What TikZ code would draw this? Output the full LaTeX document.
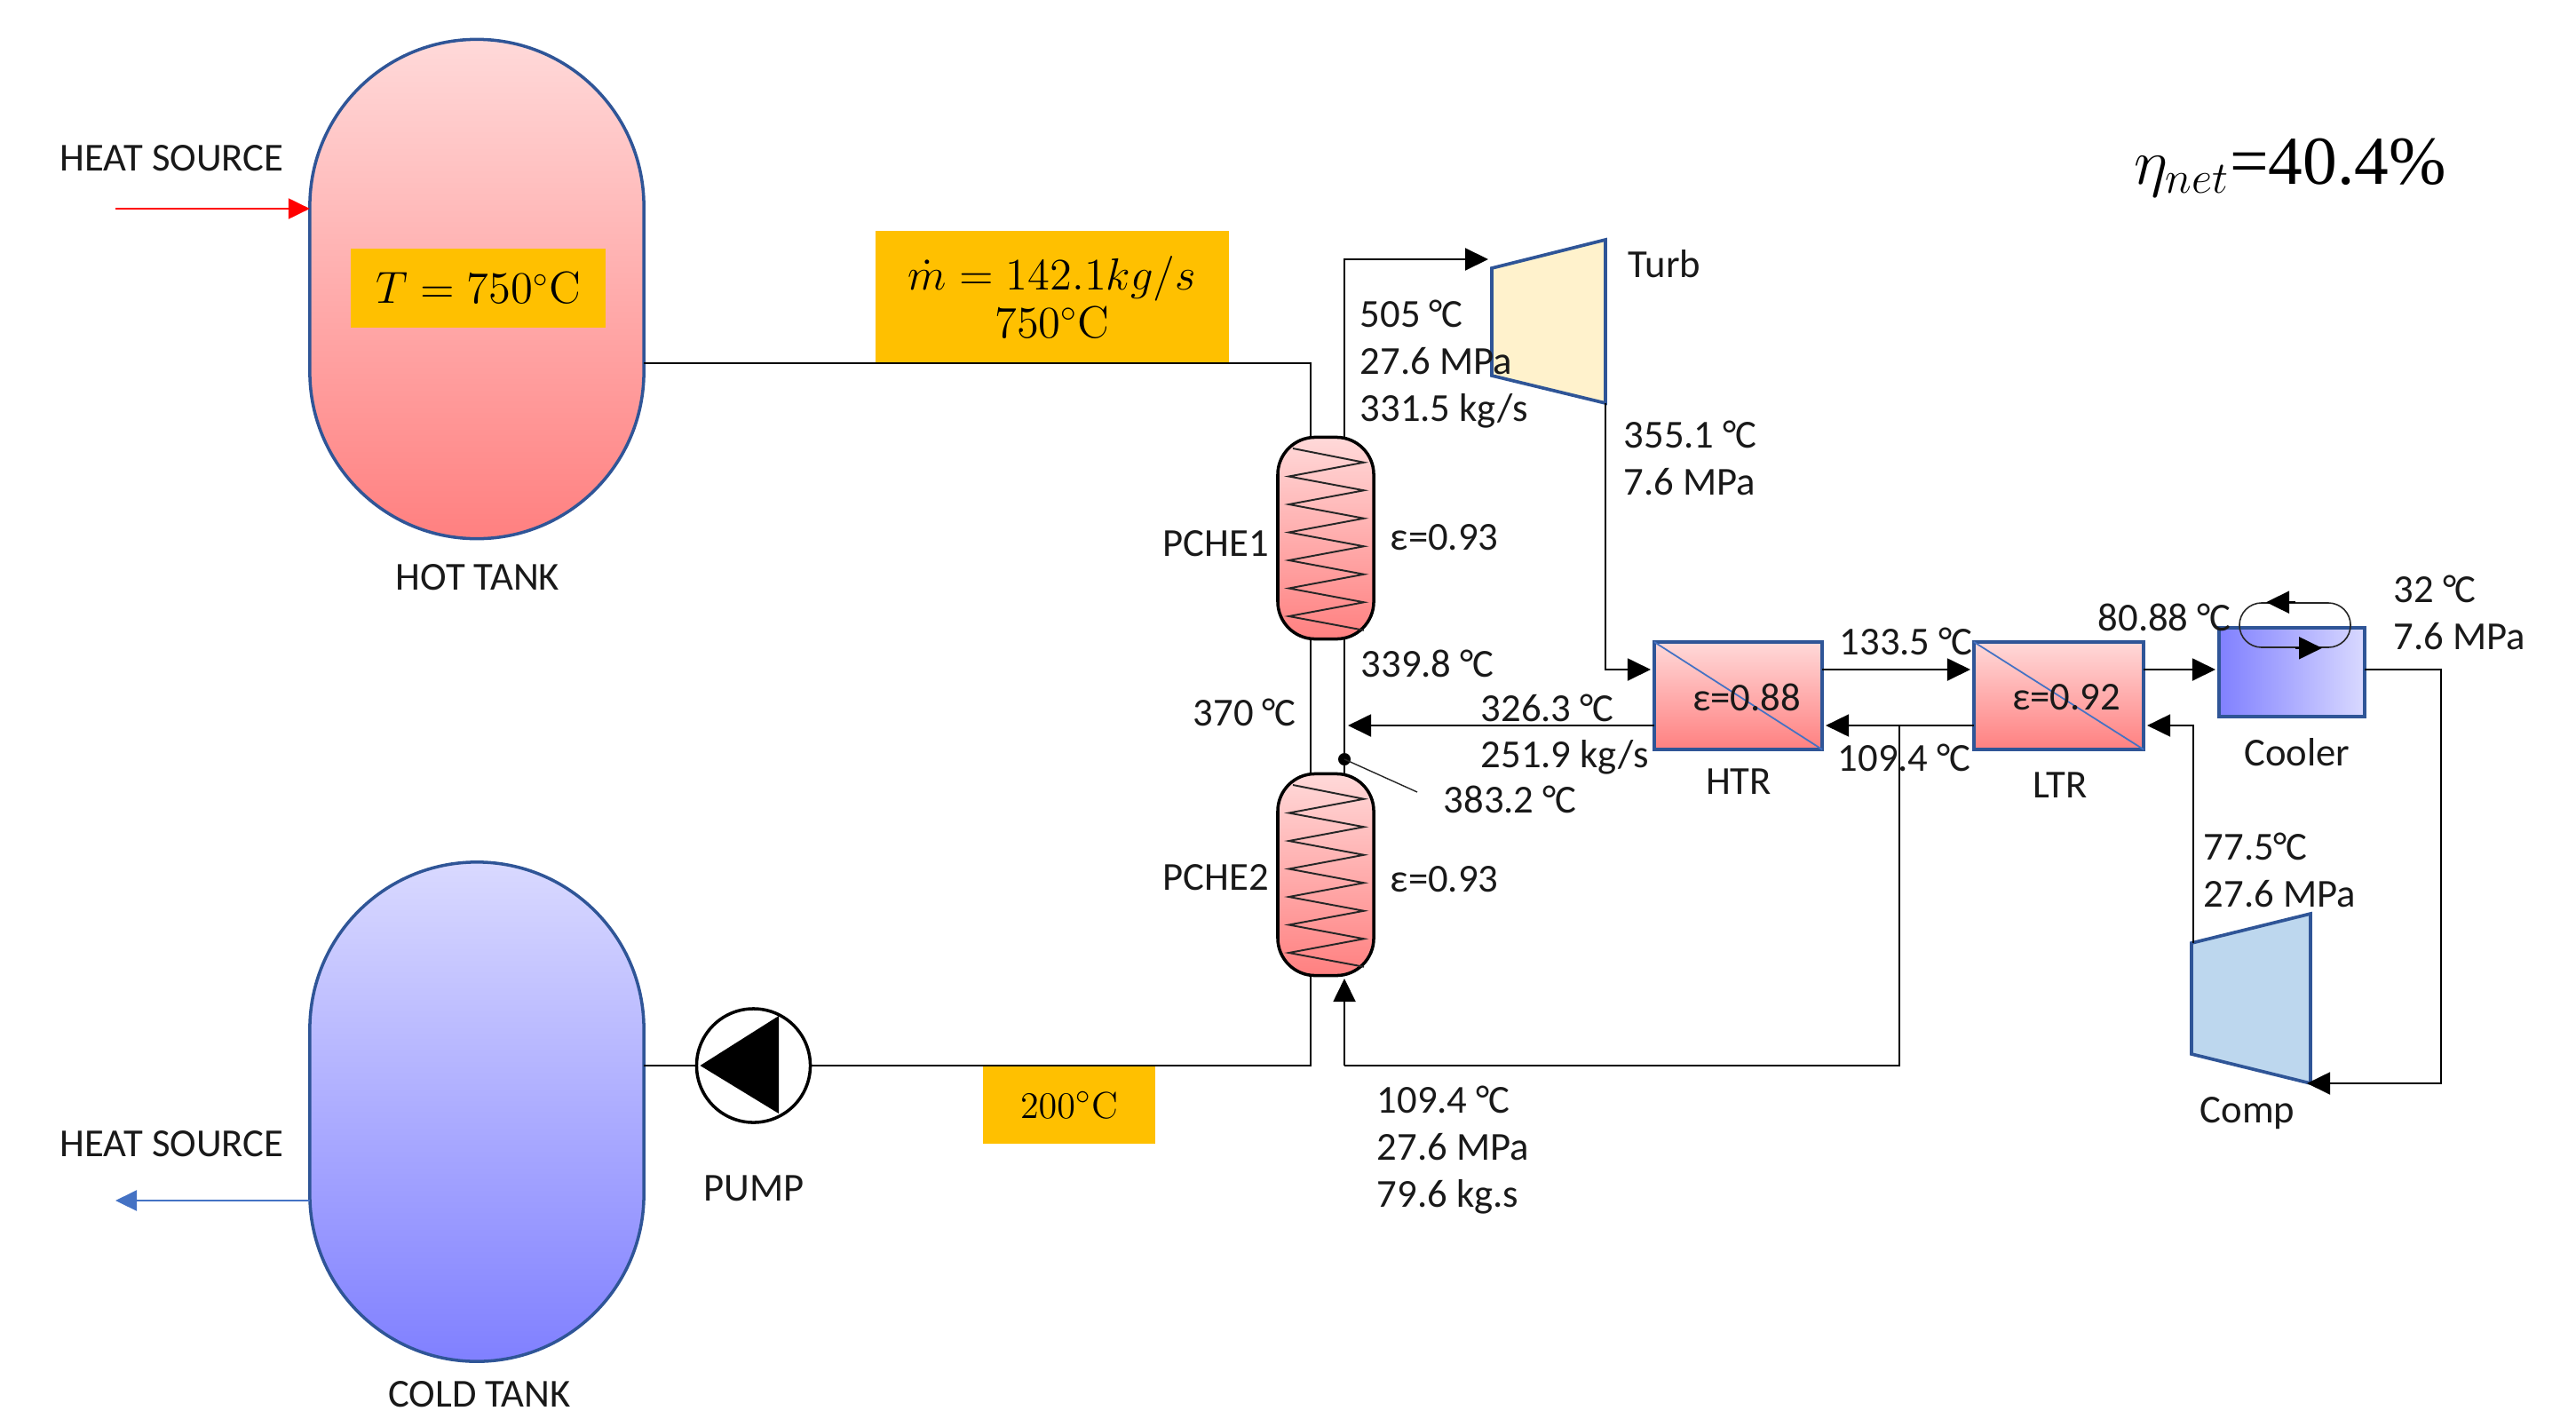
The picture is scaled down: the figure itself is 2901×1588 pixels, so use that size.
\documentclass[tikz,border=0pt]{standalone}
\usepackage[no-math]{fontspec}
\usepackage{amsmath}
\setmainfont{Carlito}
\newfontfamily\etafont{Liberation Serif}
\usetikzlibrary{calc,arrows.meta}
\newcommand{\degC}{°\kern-.04em C}
\definecolor{vesselblue}{HTML}{2F5597}
\definecolor{arrowblue}{HTML}{4472C4}
\definecolor{tagorange}{HTML}{FFC000}
\definecolor{hottop}{HTML}{FFD9D9}
\definecolor{hotbot}{HTML}{FF8080}
\definecolor{coldtop}{HTML}{D9D9FF}
\definecolor{coldbot}{HTML}{8080FF}
\definecolor{turbfill}{HTML}{FFF2CC}
\definecolor{compfill}{HTML}{BDD7EE}
\tikzset{
	pipe/.style={line width=0.55pt,black},
	flow/.style={pipe,-{Triangle[length=2.6mm,width=2.5mm]},shorten >=0.4mm},
	lab/.style={font=\fontsize{12.7}{15}\selectfont,align=left,inner sep=0pt,text=black!90},
	tag/.style={fill=tagorange,inner sep=0pt,outer sep=0pt,align=center,font=\fontsize{14}{15.5}\selectfont},
	tank/.style={draw=vesselblue,line width=1pt,minimum width=3.76cm,minimum height=5.62cm,inner sep=0pt,outer sep=0pt,rounded corners=1.879cm},
	pche/.style={draw=black,line width=1pt,top color=hottop,bottom color=hotbot,minimum width=1.08cm,minimum height=2.27cm,inner sep=0pt,outer sep=0pt,rounded corners=0.42cm},
	recup/.style={draw=vesselblue,line width=1.05pt,top color=hottop,bottom color=hotbot,inner sep=0pt,outer sep=0pt,minimum height=1.21cm},
	machine/.style={draw=vesselblue,line width=1.05pt}
}
\begin{document}
\begin{tikzpicture}[x=0.01cm,y=-0.01cm]
	\useasboundingbox (0,0) rectangle (2901,1588);
	
	\node[tank,top color=hottop,bottom color=hotbot] (hot) at (537,325.5) {};
	\node[tank,top color=coldtop,bottom color=coldbot] (cold) at (537,1252) {};
	\node[tag,minimum width=2.87cm,minimum height=0.89cm,font=\fontsize{13.4}{15}\selectfont] (ttag) at (538.5,324.5) {\(T=750^{\circ}\mathrm{C}\)};
	\node[tag,minimum width=3.98cm,minimum height=1.48cm] (mtag) at (1185,334.5) {\(\dot{m}=142.1kg/s\)\\\(750^{\circ}\mathrm{C}\)};
	\node[tag,minimum width=1.93cm,minimum height=0.87cm,font=\fontsize{13}{15}\selectfont] (ptag) at (1204,1244.5) {\(200^{\circ}\mathrm{C}\)};
	
	\node[pche] (pche1) at (1493,606) {};
	\node[pche] (pche2) at (1493,985) {};
	\foreach \y in {505,884}{
		\draw[line width=0.55pt,black!85] (1456,\y) \foreach \i [evaluate=\i as \xx using {mod(\i,2)==1 ? 1536 : 1451.5}, evaluate=\i as \yy using {\y+\i*15.75}] in {1,...,13}{ -- (\xx,\yy)};}
	
	\node[recup,minimum width=1.89cm] (htr) at (1957.5,783.5) {};
	\node[recup,minimum width=1.91cm] (ltr) at (2318.5,783.5) {};
	\draw[arrowblue,line width=0.5pt] (htr.north west) -- (htr.south east);
	\draw[arrowblue,line width=0.5pt] (ltr.north west) -- (ltr.south east);
	\node[draw=vesselblue,line width=1.05pt,left color=coldbot,right color=coldtop,minimum width=1.64cm,minimum height=1.0cm,inner sep=0pt,outer sep=0pt] (cooler) at (2581,757) {};
	
	\coordinate (turba) at (1680,302);
	\coordinate (turbb) at (1808,270);
	\coordinate (turbc) at (1808,454);
	\coordinate (turbd) at (1680,423);
	\coordinate (turbin) at (1680,292);
	\fill[fill=turbfill] (turba) -- (turbb) -- (turbc) -- (turbd) -- cycle;
	\draw[machine] (turba) -- (turbb) -- (turbc) -- (turbd) -- cycle;
	
	\coordinate (compa) at (2468,1062);
	\coordinate (compb) at (2602,1029);
	\coordinate (compc) at (2602,1220);
	\coordinate (compd) at (2468,1187);
	\fill[fill=compfill] (compa) -- (compb) -- (compc) -- (compd) -- cycle;
	\draw[machine] (compa) -- (compb) -- (compc) -- (compd) -- cycle;
	
	\coordinate (hotin) at (1476,492);
	\coordinate (hotout) at (1476,719);
	\coordinate (coldin) at (1476,871);
	\coordinate (coldout) at (1476,1098);
	\coordinate (co2a) at (1514,492);
	\coordinate (co2b) at (1514,719);
	\coordinate (co2c) at (1514,817);
	\coordinate (co2d) at (1514,871);
	\coordinate (co2e) at (1514,1098);
	\coordinate (split) at (2139,817);
	\coordinate (bypass) at (1514,1200);
	
	\node[draw=black,line width=1pt,fill=white,circle,minimum size=1.28cm,inner sep=0pt,outer sep=0pt] (pump) at (848.5,1200) {};
	\fill[black] (pump.west) ++(4,0) -- (877,1144) -- (877,1254) -- cycle;
	
	\draw[pipe] (hot.east |- mtag.south) -- (hotin |- mtag.south) -- (hotin);
	\draw[pipe] (hotout) -- (coldin);
	\draw[pipe] (coldout) -- (coldout |- pump.east) -- (pump.east);
	\draw[pipe] (pump.west) -- (cold.east |- pump.west);
	
	\draw[flow] (co2a) |- (turbin);
	\draw[pipe] (co2b) -- (co2d);
	\draw[flow] (htr.west |- co2c) -- (co2c);
	\fill[black] (1514,855) circle (7);
	\coordinate (leader) at (1596,892);
	\draw[line width=0.4pt,black!85] (1514,855) -- (leader);
	\draw[flow] (turbc) |- (htr.west |- 0,754);
	\draw[flow] (htr.east |- 0,754) -- (ltr.west |- 0,754);
	\draw[flow] (ltr.east |- 0,754) -- (cooler.west |- 0,754);
	\draw[flow] (ltr.west |- split) -- (htr.east |- split);
	\draw[pipe] (split) |- (bypass);
	\draw[flow] (bypass) -- (co2e);
	\draw[flow] (compa -| 2470,0) |- (ltr.east |- split);
	\draw[flow,shorten >=-0.04cm] (cooler.east |- 0,754) -- (2749,754) |- (compc);
	
	\node[draw=black!85,line width=0.45pt,minimum width=1.25cm,minimum height=0.5cm,inner sep=0pt,rounded corners=0.249cm] (loop) at (2584.5,704) {};
	\draw[flow,shorten >=0pt] (loop.north) -- ++(-32.5,0);
	\draw[flow,shorten >=0pt] (loop.south) -- ++(30.5,0);
	
	\coordinate (heatin) at (130,235);
	\coordinate (heatout) at (130,1352);
	\draw[red,line width=0.6pt,-{Triangle[length=2.4mm,width=2.3mm]}] (heatin) -- (hot.west |- heatin);
	\draw[arrowblue,line width=0.6pt,-{Triangle[length=2.4mm,width=2.3mm]}] (cold.west |- heatout) -- (heatout);
	
	\node[lab,anchor=west] (srcin) at (67,178) {HEAT SOURCE};
	\node[lab,anchor=west] (srcout) at (67,1288) {HEAT SOURCE};
	\node[lab] (hotname) at (538,650) {HOT TANK};
	\node[lab] (coldname) at (540,1570) {COLD TANK};
	\node[lab] (pumpname) at (849,1338) {PUMP};
	\node[lab,anchor=west] (turbname) at (1833,297) {Turb};
	\node[lab,anchor=west] (p1name) at (1309,612) {PCHE1};
	\node[lab,anchor=west] (p2name) at (1309,988) {PCHE2};
	\node[lab,anchor=west] (p1eff) at (1565,605) {ε=0.93};
	\node[lab,anchor=west] (p2eff) at (1565,990) {ε=0.93};
	\node[lab] (htrname) at (1958,880) {HTR};
	\node[lab] (ltrname) at (2320,884) {LTR};
	\node[lab] (coolname) at (2587,847) {Cooler};
	\node[lab] (compname) at (2531,1254) {Comp};
	\node[lab] (htreff) at (1967,785) {ε=0.88};
	\node[lab] (ltreff) at (2327,785) {ε=0.92};
	
	\node[lab,anchor=west] (turbinlet) at (1531,410) {505 \degC\\27.6 MPa\\331.5 kg/s};
	\node[lab,anchor=west] (turbexit) at (1828,516) {355.1 \degC\\7.6 MPa};
	\node[lab,anchor=west] (hi1) at (1532,747) {339.8 \degC};
	\node[lab,anchor=west] (hi2) at (1343,802) {370 \degC};
	\node[lab,anchor=west] (hi3) at (1667,827) {326.3 \degC\\251.9 kg/s};
	\node[lab,anchor=west] (hi4) at (1625,900) {383.2 \degC};
	\node[lab,anchor=west] (mid1) at (2071,722) {133.5 \degC};
	\node[lab,anchor=west] (mid2) at (2069,853) {109.4 \degC};
	\node[lab,anchor=west] (low1) at (2362,695) {80.88 \degC};
	\node[lab,anchor=west] (low2) at (2695,690) {32 \degC\\7.6 MPa};
	\node[lab,anchor=west] (low3) at (2481,980) {77.5\degC\\27.6 MPa};
	\node[lab,anchor=west] (low4) at (1550,1295) {109.4 \degC\\27.6 MPa\\79.6 kg.s};
	
	\node[inner sep=0pt,anchor=base west,font=\etafont\fontsize{22}{25}\selectfont] (eta) at (2403,207) {\(\eta_{net}\)=40.4\%};
\end{tikzpicture}
\end{document}
